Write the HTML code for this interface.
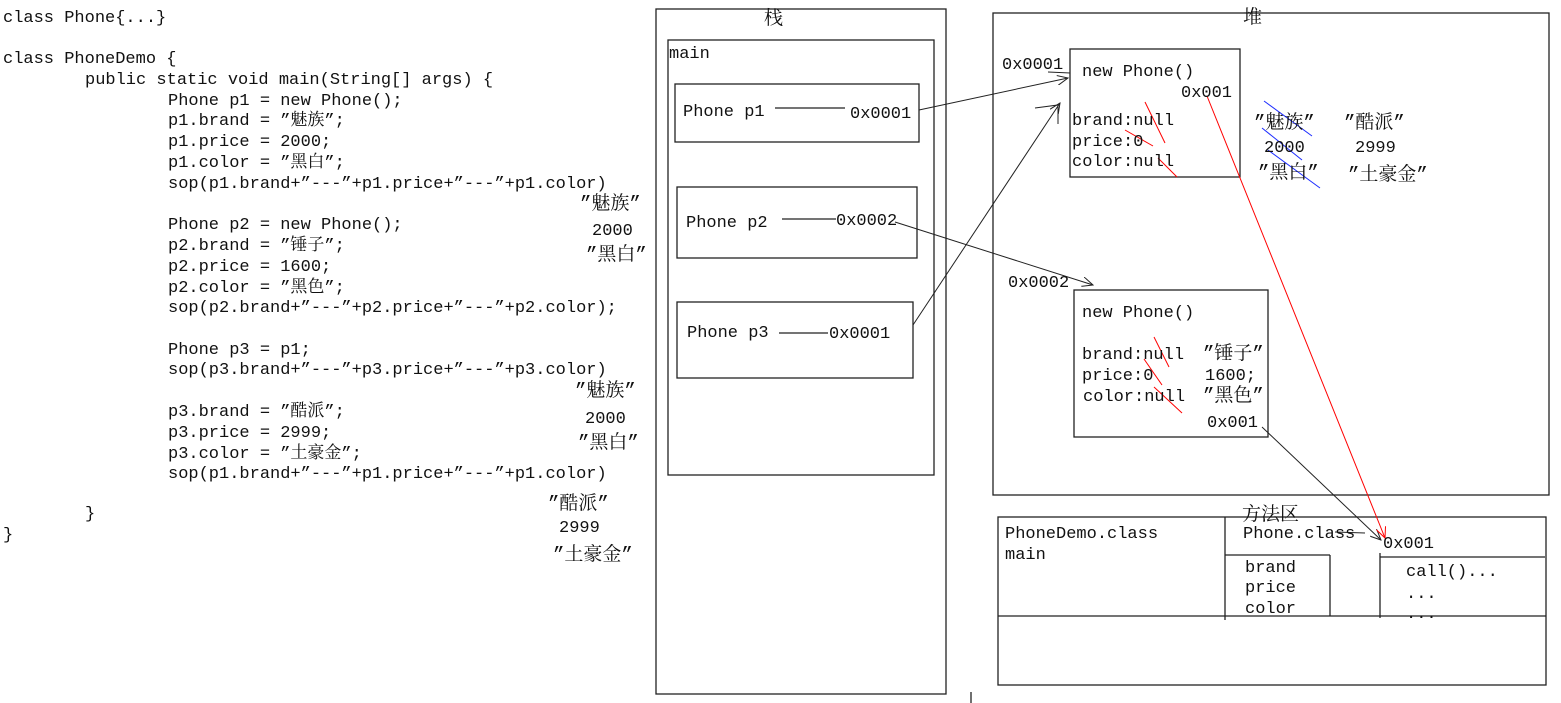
<!DOCTYPE html>
<html><head><meta charset="utf-8"><style>
html,body{margin:0;padding:0;background:#fff;width:1561px;height:703px;overflow:hidden}
svg text{font-family:"Liberation Mono","Noto Serif CJK SC",monospace;font-size:17px;fill:#111}
svg text tspan.c{font-size:19px}
</style></head><body>
<svg width="1561" height="703" xmlns="http://www.w3.org/2000/svg">
<defs><marker id="a" markerWidth="12" markerHeight="10" refX="11" refY="5" orient="auto" markerUnits="userSpaceOnUse"><path d="M0,0 L11,5 L0,10" fill="none" stroke="#222" stroke-width="1"/></marker>
<marker id="r" markerWidth="12" markerHeight="10" refX="11" refY="5" orient="auto" markerUnits="userSpaceOnUse"><path d="M0,0 L11,5 L0,10" fill="none" stroke="red" stroke-width="1"/></marker></defs>
<g>
<text x="3" y="22">class Phone{...}</text>
<text x="3" y="63">class PhoneDemo {</text>
<text x="85" y="84">public static void main(String[] args) {</text>
<text x="168" y="105">Phone p1 = new Phone();</text>
<text x="168" y="125">p1.brand = ”魅族”;</text>
<text x="168" y="146">p1.price = 2000;</text>
<text x="168" y="167">p1.color = ”黑白”;</text>
<text x="168" y="188">sop(p1.brand+”---”+p1.price+”---”+p1.color)</text>
<text x="580" y="209"><tspan class="c">”魅族”</tspan></text>
<text x="168" y="229">Phone p2 = new Phone();</text>
<text x="592" y="235">2000</text>
<text x="168" y="250">p2.brand = ”锤子”;</text>
<text x="586" y="260"><tspan class="c">”黑白”</tspan></text>
<text x="168" y="271">p2.price = 1600;</text>
<text x="168" y="292">p2.color = ”黑色”;</text>
<text x="168" y="312">sop(p2.brand+”---”+p2.price+”---”+p2.color);</text>
<text x="168" y="354">Phone p3 = p1;</text>
<text x="168" y="374">sop(p3.brand+”---”+p3.price+”---”+p3.color)</text>
<text x="575" y="396"><tspan class="c">”魅族”</tspan></text>
<text x="168" y="416">p3.brand = ”酷派”;</text>
<text x="585" y="423">2000</text>
<text x="168" y="437">p3.price = 2999;</text>
<text x="578" y="448"><tspan class="c">”黑白”</tspan></text>
<text x="168" y="458">p3.color = ”土豪金”;</text>
<text x="168" y="478">sop(p1.brand+”---”+p1.price+”---”+p1.color)</text>
<text x="548" y="509"><tspan class="c">”酷派”</tspan></text>
<text x="85" y="518">}</text>
<text x="559" y="532">2999</text>
<text x="3" y="539">}</text>
<text x="553" y="560"><tspan class="c">”土豪金”</tspan></text>
</g>
<g fill="none" stroke="#222" stroke-width="1.3">
<rect x="656" y="9" width="290" height="685"/>
<rect x="668" y="40" width="266" height="435"/>
<rect x="675" y="84" width="244" height="58"/>
<rect x="677" y="187" width="240" height="71"/>
<rect x="677" y="302" width="236" height="76"/>
<line x1="775" y1="108" x2="845" y2="108"/>
<line x1="782" y1="219" x2="836" y2="219"/>
<line x1="779" y1="333" x2="828" y2="333"/>
<rect x="993" y="13" width="556" height="482"/>
<rect x="1070" y="49" width="170" height="128"/>
<rect x="1074" y="290" width="194" height="147"/>
<rect x="998" y="517" width="548" height="168"/>
<line x1="998" y1="616" x2="1546" y2="616"/>
<line x1="1225" y1="517" x2="1225" y2="620"/>
<line x1="1225" y1="555" x2="1330" y2="555"/>
<line x1="1330" y1="555" x2="1330" y2="616"/>
<line x1="1380" y1="553" x2="1380" y2="618"/>
<line x1="1380" y1="557" x2="1545" y2="557"/>
<line x1="971" y1="692" x2="971" y2="703"/>
</g>
<g fill="none" stroke="#222" stroke-width="1">
<line x1="919" y1="110" x2="1068" y2="78" marker-end="url(#a)"/>
<line x1="913" y1="325" x2="1060" y2="103" marker-end="url(#a)"/>
<line x1="895" y1="222" x2="1093" y2="285" marker-end="url(#a)"/>
<line x1="1262" y1="427" x2="1381" y2="540" marker-end="url(#a)"/>
<polyline points="1048,72 1070,73 1070,66"/>
<polyline points="1035,108 1058,105 1058,124"/>
<line x1="1335" y1="532" x2="1365" y2="533"/>
</g>
<g stroke="red" stroke-width="1" fill="none">
<line x1="1207" y1="96" x2="1385" y2="538" marker-end="url(#r)"/>
<line x1="1145" y1="102" x2="1165" y2="143"/>
<line x1="1125" y1="130" x2="1153" y2="146"/>
<line x1="1158" y1="158" x2="1177" y2="177"/>
<line x1="1154" y1="337" x2="1169" y2="367"/>
<line x1="1144" y1="359" x2="1162" y2="385"/>
<line x1="1154" y1="387" x2="1182" y2="413"/>
</g>
<g stroke="#1c2cff" stroke-width="1" fill="none">
<line x1="1264" y1="101" x2="1312" y2="136"/>
<line x1="1262" y1="128" x2="1302" y2="160"/>
<line x1="1268" y1="150" x2="1320" y2="188"/>
</g>
<g>
<text x="764" y="24"><tspan class="c">栈</tspan></text>
<text x="669" y="58">main</text>
<text x="683" y="116">Phone p1</text>
<text x="850" y="118">0x0001</text>
<text x="686" y="227">Phone p2</text>
<text x="836" y="225">0x0002</text>
<text x="687" y="337">Phone p3</text>
<text x="829" y="338">0x0001</text>
<text x="1243" y="23"><tspan class="c">堆</tspan></text>
<text x="1002" y="69">0x0001</text>
<text x="1082" y="76">new Phone()</text>
<text x="1181" y="97">0x001</text>
<text x="1072" y="125">brand:null</text>
<text x="1072" y="146">price:0</text>
<text x="1072" y="166">color:null</text>
<text x="1254" y="128"><tspan class="c">”魅族”</tspan></text>
<text x="1344" y="128"><tspan class="c">”酷派”</tspan></text>
<text x="1264" y="152">2000</text>
<text x="1355" y="152">2999</text>
<text x="1258" y="178"><tspan class="c">”黑白”</tspan></text>
<text x="1348" y="180"><tspan class="c">”土豪金”</tspan></text>
<text x="1008" y="287">0x0002</text>
<text x="1082" y="317">new Phone()</text>
<text x="1082" y="359">brand:null</text>
<text x="1203" y="359"><tspan class="c">”锤子”</tspan></text>
<text x="1082" y="380">price:0</text>
<text x="1205" y="380">1600;</text>
<text x="1083" y="401">color:null</text>
<text x="1203" y="401"><tspan class="c">”黑色”</tspan></text>
<text x="1207" y="427">0x001</text>
<text x="1242" y="520"><tspan class="c">方法区</tspan></text>
<text x="1005" y="538">PhoneDemo.class</text>
<text x="1005" y="559">main</text>
<text x="1243" y="538">Phone.class</text>
<text x="1383" y="548">0x001</text>
<text x="1245" y="572">brand</text>
<text x="1245" y="592">price</text>
<text x="1245" y="613">color</text>
<text x="1406" y="576">call()...</text>
<text x="1406" y="598">...</text>
<text x="1406" y="618">...</text>
</g>
</svg>
</body></html>
